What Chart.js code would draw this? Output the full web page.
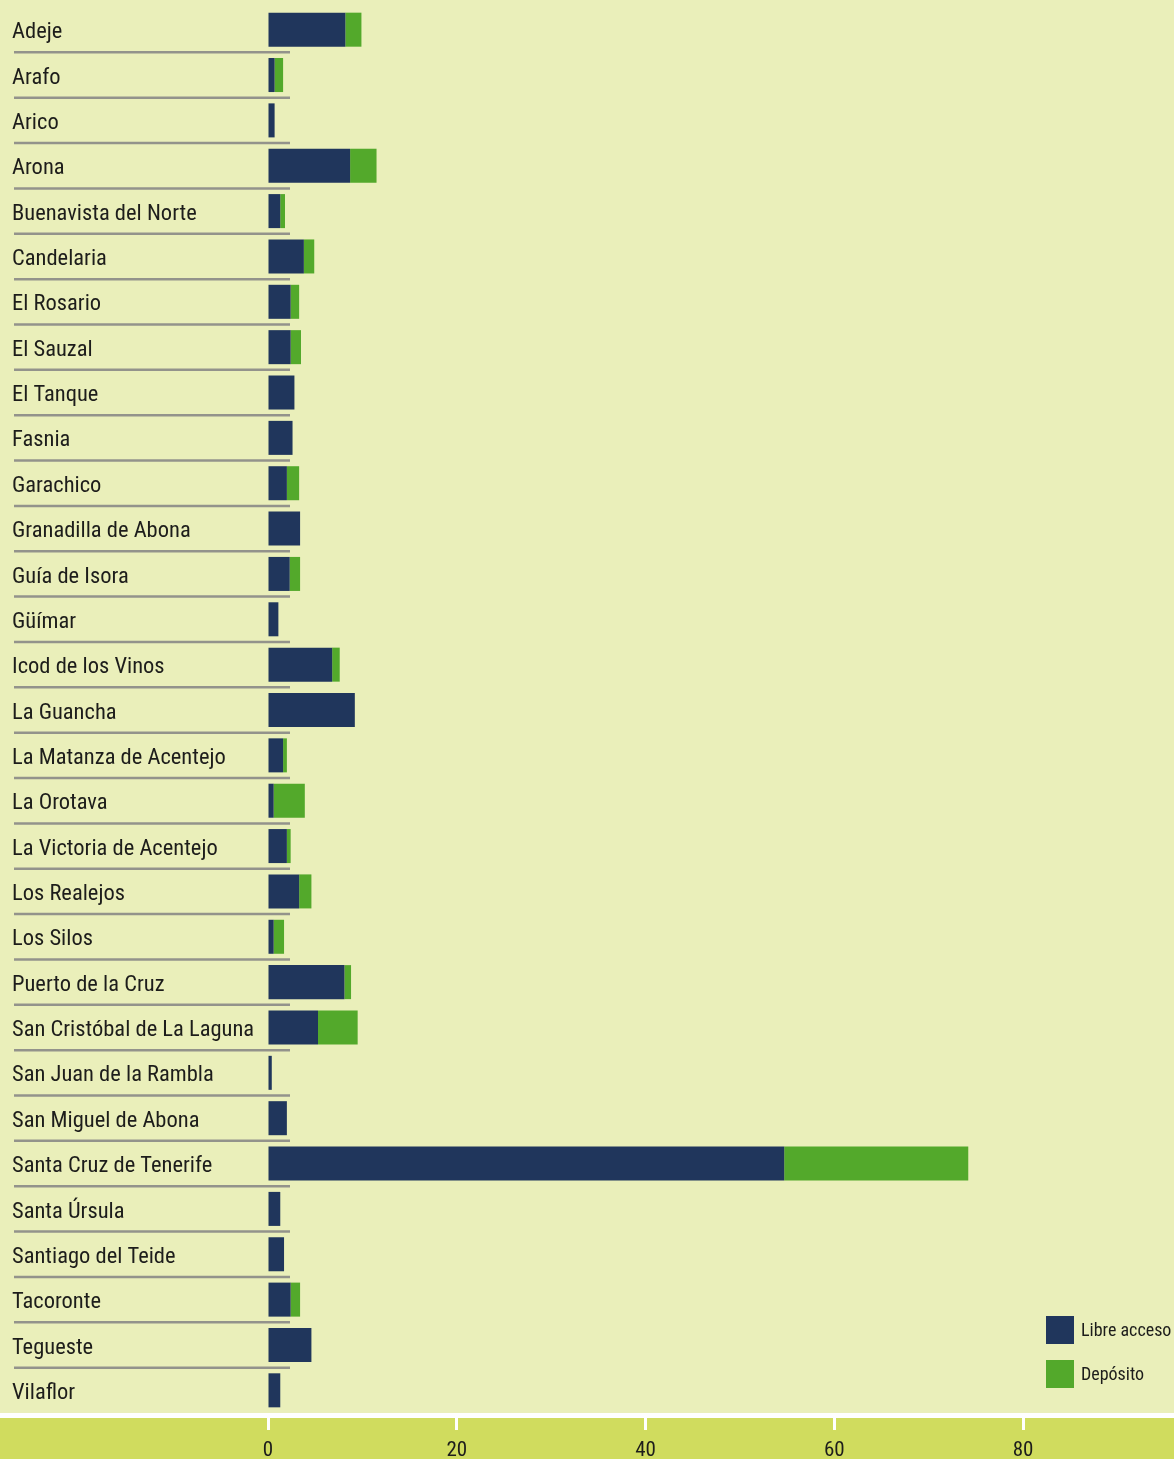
<!DOCTYPE html>
<html>
<head>
<meta charset="utf-8">
<script src="https://cdn.jsdelivr.net/npm/chart.js@4/dist/chart.umd.min.js"></script>
<style>
html,body{margin:0;padding:0;background:#EAEFBA;}
#wrap{width:1174px;height:1459px;position:relative;overflow:hidden;}
canvas{display:block;}
</style>
</head>
<body>
<div id="wrap"><canvas id="c" width="1174" height="1459"></canvas></div>
<script>
const categories = [
  "Adeje","Arafo","Arico","Arona","Buenavista del Norte","Candelaria","El Rosario","El Sauzal",
  "El Tanque","Fasnia","Garachico","Granadilla de Abona","Guía de Isora","Güímar","Icod de los Vinos",
  "La Guancha","La Matanza de Acentejo","La Orotava","La Victoria de Acentejo","Los Realejos","Los Silos",
  "Puerto de la Cruz","San Cristóbal de La Laguna","San Juan de la Rambla","San Miguel de Abona",
  "Santa Cruz de Tenerife","Santa Úrsula","Santiago del Teide","Tacoronte","Tegueste","Vilaflor"
];
const libreAcceso = [
  8.2, 0.7, 0.7, 8.7, 1.3, 3.8, 2.4, 2.4,
  2.8, 2.6, 2.0, 3.4, 2.3, 1.1, 6.8,
  9.2, 1.6, 0.6, 2.0, 3.3, 0.6,
  8.1, 5.3, 0.4, 2.0,
  54.7, 1.3, 1.7, 2.4, 4.6, 1.3
];
const deposito = [
  1.7, 0.9, 0, 2.8, 0.5, 1.1, 0.9, 1.1,
  0, 0, 1.3, 0, 1.1, 0, 0.8,
  0, 0.4, 3.3, 0.4, 1.3, 1.1,
  0.7, 4.2, 0, 0,
  19.5, 0, 0, 1.0, 0, 0
];
const seriesNames = ["Libre acceso", "Depósito"];
const xTickStep = 20;
const xMax = 96;

const FONT = "'Roboto Condensed', 'DejaVu Sans Condensed', sans-serif";
const NAVY = '#20365C';
const GREEN = '#53A92B';
const BG = '#EAEFBA';
const BAND = '#D0DC5E';
const TEXT = '#1d1d1b';

const backgroundPlugin = {
  id: 'bgBand',
  beforeDraw(chart) {
    const {ctx, width, height} = chart;
    const xs = chart.scales.x;
    ctx.save();
    ctx.fillStyle = BG;
    ctx.fillRect(0, 0, width, height);
    ctx.fillStyle = BAND;
    ctx.fillRect(0, xs.top + 5, width, height - xs.top - 5);
    ctx.fillStyle = '#ffffff';
    ctx.fillRect(0, xs.top, width, 5);
    ctx.restore();
  }
};

const separatorPlugin = {
  id: 'separators',
  beforeDatasetsDraw(chart) {
    const {ctx} = chart;
    const ys = chart.scales.y;
    ctx.save();
    ctx.strokeStyle = '#93938b';
    ctx.lineWidth = 2.5;
    for (let i = 0; i < categories.length - 1; i++) {
      const y = (ys.getPixelForValue(i) + ys.getPixelForValue(i + 1)) / 2;
      ctx.beginPath();
      ctx.moveTo(14, y);
      ctx.lineTo(290, y);
      ctx.stroke();
    }
    ctx.restore();
  }
};

const legendPlugin = {
  id: 'customLegend',
  afterDraw(chart) {
    const {ctx} = chart;
    ctx.save();
    chart.data.datasets.forEach((ds, i) => {
      const top = 1316 + i * 44;
      ctx.fillStyle = ds.backgroundColor;
      ctx.fillRect(1046, top, 28, 28);
      ctx.fillStyle = TEXT;
      ctx.font = "18px " + FONT;
      ctx.textBaseline = 'middle';
      ctx.textAlign = 'left';
      ctx.fillText(ds.label, 1081, top + 15);
    });
    ctx.restore();
  }
};

new Chart(document.getElementById('c'), {
  type: 'bar',
  data: {
    labels: categories,
    datasets: [
      {label: seriesNames[0], data: libreAcceso, backgroundColor: NAVY, borderWidth: 0,
       categoryPercentage: 1, barPercentage: 0.75},
      {label: seriesNames[1], data: deposito, backgroundColor: GREEN, borderWidth: 0,
       categoryPercentage: 1, barPercentage: 0.75}
    ]
  },
  options: {
    indexAxis: 'y',
    responsive: false,
    animation: false,
    layout: {padding: {left: 12, top: 7, right: 0, bottom: 0}},
    plugins: {legend: {display: false}, tooltip: {enabled: false}, title: {display: false}},
    scales: {
      y: {
        stacked: true,
        grid: {display: false, drawTicks: false},
        border: {display: false},
        ticks: {
          crossAlign: 'far', padding: 0, color: TEXT,
          font: {family: FONT, size: 22.5, lineHeight: '6px'},
          callback(value) { return ['', this.getLabelForValue(value)]; }
        },
        afterFit(scale) { scale.width = 256; scale.paddingTop = 0; scale.paddingBottom = 0; }
      },
      x: {
        stacked: true,
        min: 0,
        max: xMax,
        grid: {drawOnChartArea: false, drawTicks: true, tickLength: 17, tickWidth: 3, tickColor: '#ffffff', color: '#ffffff'},
        border: {display: false},
        ticks: {stepSize: xTickStep, includeBounds: false, padding: 8, color: TEXT, font: {family: FONT, size: 21}, maxRotation: 0},
        afterFit(scale) { scale.height = 46; scale.paddingLeft = 0; scale.paddingRight = 0; }
      }
    }
  },
  plugins: [backgroundPlugin, separatorPlugin, legendPlugin]
});
</script>
</body>
</html>
